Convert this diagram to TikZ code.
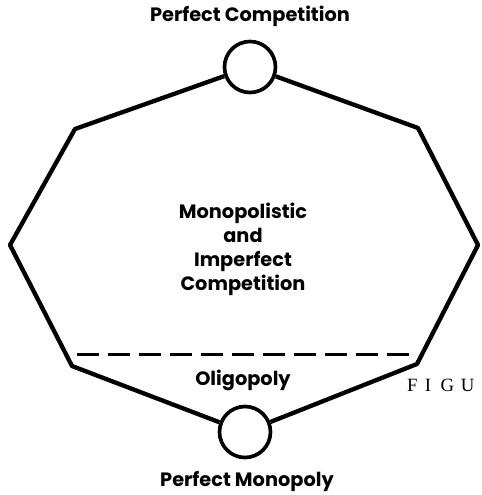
\documentclass[tikz,border=0pt]{standalone}
\usepackage{fontspec}
\setmainfont{Poppins}
\newfontfamily\capfont{Liberation Serif}
\usetikzlibrary{positioning}

\begin{document}
\begin{tikzpicture}[
    x=0.3mm, y=-0.3mm,
    market/.style={
        circle,
        draw=black,
        line width=1.1mm,
        minimum size=15.3mm,
        inner sep=0pt
    },
    edge/.style={line width=1.3mm, line join=round},
    label/.style={font=\bfseries\fontsize{16.5}{20.5}\selectfont, align=center, inner sep=0pt}
]
\useasboundingbox (0,0) rectangle (481,495);

\node[market] (pc) at (250,67) {};
\node[market] (pm) at (245,432) {};

\coordinate (tl) at (75,129);
\coordinate (lv) at (10,245);
\coordinate (bl) at (72,366);
\coordinate (br) at (417,364);
\coordinate (rv) at (478,245);
\coordinate (tr) at (418,128);
\coordinate (dl) at (77,354);
\coordinate (dr) at (416,354);

% outline of the market range
\draw[edge] (pc) -- (tl) -- (lv) -- (bl) -- (pm);
\draw[edge] (pm) -- (br) -- (rv) -- (tr) -- (pc);
\draw[line width=0.9mm, dash pattern=on 6.6mm off 2.7mm] (dl) -- (dr);

\node[label] (pctext) at (250,16) {Perfect Competition};
\node[label] (pmtext) at (247,481) {Perfect Monopoly};
\node[label] (mono) at (243,249) {Monopolistic\\and\\Imperfect\\Competition};
\node[label] (oligo) at (243,380) {Oligopoly};
\node[anchor=base west, inner sep=0pt, font=\capfont\fontsize{16}{18}\selectfont] (fig) at (407,391)
    {F\hspace{2.2mm}I\hspace{2.8mm}G\hspace{2mm}U};

\end{tikzpicture}
\end{document}
